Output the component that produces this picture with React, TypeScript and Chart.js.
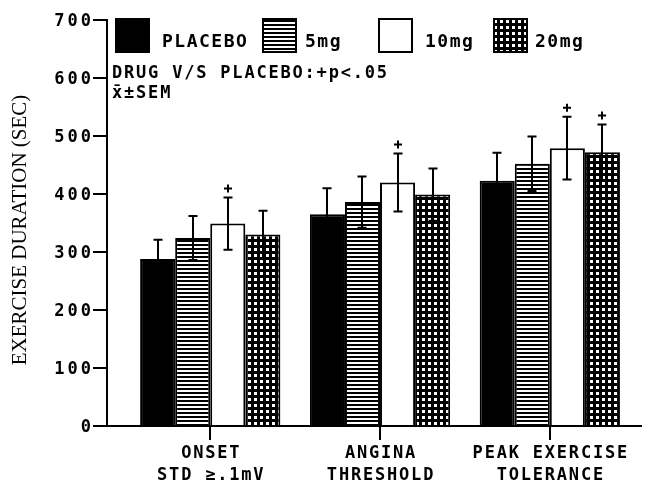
import React, { useEffect, useRef } from "react";
import { Chart, registerables } from "chart.js";
Chart.register(...registerables);

const categories = [
  ["ONSET", "STD ≥.1mV"],
  ["ANGINA", "THRESHOLD"],
  ["PEAK EXERCISE", "TOLERANCE"],
];
const seriesNames = ["PLACEBO", "5mg", "10mg", "20mg"];
const placebo = [288, 365, 423];
const placeboSem = [33, 45, 48];
const mg5 = [324, 386, 452];
const mg5Sem = [38, 44, 47];
const mg10 = [349, 420, 479];
const mg10Sem = [45, 50, 54];
const mg20 = [330, 399, 472];
const mg20Sem = [41, 45, 48];
const placeboSig = [false, false, false];
const mg5Sig = [false, false, false];
const mg10Sig = [true, true, true];
const mg20Sig = [false, false, true];
const yTicks = [0, 100, 200, 300, 400, 500, 600, 700];
const annotationLines = ["DRUG V/S PLACEBO:+p<.05", "x\u0304\u00B1SEM"];
const yTitle = "EXERCISE DURATION (SEC)";

const MONO = '"DejaVu Sans Mono", monospace';

function makeStripe(): CanvasPattern | string {
  const c = document.createElement("canvas");
  c.width = 4;
  c.height = 4;
  const g = c.getContext("2d")!;
  g.fillStyle = "#000";
  g.fillRect(0, 0, 4, 4);
  g.fillStyle = "#fff";
  g.fillRect(0, 2, 4, 2);
  return g.createPattern(c, "repeat") || "#888";
}
function makeDots(): CanvasPattern | string {
  const c = document.createElement("canvas");
  c.width = 6;
  c.height = 6;
  const g = c.getContext("2d")!;
  g.fillStyle = "#000";
  g.fillRect(0, 0, 6, 6);
  g.fillStyle = "#fff";
  g.fillRect(2, 2, 3, 3);
  return g.createPattern(c, "repeat") || "#444";
}

function txt(
  ctx: CanvasRenderingContext2D,
  s: string,
  x: number,
  y: number,
  font: string,
  align: CanvasTextAlign,
  spacing: number
) {
  ctx.save();
  ctx.font = font;
  (ctx as any).letterSpacing = spacing + "px";
  ctx.textAlign = align;
  ctx.textBaseline = "alphabetic";
  ctx.fillStyle = "#000";
  ctx.fillText(s, x, y);
  ctx.restore();
}

export default function App() {
  const ref = useRef<HTMLCanvasElement>(null);
  useEffect(() => {
    const canvas = ref.current!;
    const stripe = makeStripe();
    const dots = makeDots();
    const values = [placebo, mg5, mg10, mg20];
    const sems = [placeboSem, mg5Sem, mg10Sem, mg20Sem];
    const sigs = [placeboSig, mg5Sig, mg10Sig, mg20Sig];
    const fills: any[] = ["#000", stripe, "#fff", dots];

    const plugin = {
      id: "custom",
      afterDatasetsDraw(chart: any) {
        const ctx: CanvasRenderingContext2D = chart.ctx;
        const y = chart.scales.y;
        ctx.save();
        ctx.strokeStyle = "#000";
        ctx.lineWidth = 2;
        values.forEach((vals, di) => {
          const meta = chart.getDatasetMeta(di);
          meta.data.forEach((bar: any, i: number) => {
            const cx = Math.round(bar.x);
            const top = y.getPixelForValue(vals[i] + sems[di][i]);
            const bot = y.getPixelForValue(vals[i] - sems[di][i]);
            ctx.beginPath();
            ctx.moveTo(cx, top);
            ctx.lineTo(cx, bot);
            ctx.moveTo(cx - 4.5, top);
            ctx.lineTo(cx + 4.5, top);
            ctx.moveTo(cx - 4.5, bot);
            ctx.lineTo(cx + 4.5, bot);
            ctx.stroke();
            if (sigs[di][i]) {
              const py = top - 9;
              ctx.beginPath();
              ctx.moveTo(cx - 4, py);
              ctx.lineTo(cx + 4, py);
              ctx.moveTo(cx, py - 4);
              ctx.lineTo(cx, py + 4);
              ctx.stroke();
            }
          });
        });
        ctx.restore();
      },
      afterDraw(chart: any) {
        const ctx: CanvasRenderingContext2D = chart.ctx;
        const x = chart.scales.x;
        const y = chart.scales.y;
        yTicks.forEach((t) => {
          txt(ctx, String(t), 94, y.getPixelForValue(t) + 6, `bold 17px ${MONO}`, "right", 3);
        });
        ctx.save();
        ctx.translate(20, 230);
        ctx.rotate(-Math.PI / 2);
        ctx.font = '21px "Liberation Serif", serif';
        ctx.textAlign = "center";
        ctx.textBaseline = "middle";
        ctx.fillStyle = "#000";
        ctx.fillText(yTitle, 0, 0);
        ctx.restore();
        const boxX = [115, 262, 378, 493];
        const textX = [162, 305, 425, 535];
        seriesNames.forEach((name, i) => {
          ctx.save();
          ctx.fillStyle = fills[i];
          ctx.fillRect(boxX[i], 18, 35, 35);
          ctx.strokeStyle = "#000";
          ctx.lineWidth = 2;
          ctx.strokeRect(boxX[i] + 1, 19, 33, 33);
          ctx.restore();
          txt(ctx, name, textX[i], 47, `bold 18px ${MONO}`, "left", 1.5);
        });
        txt(ctx, annotationLines[0], 112, 78, `bold 17px ${MONO}`, "left", 1.8);
        txt(ctx, annotationLines[1], 112, 98, `bold 17px ${MONO}`, "left", 1.8);
        categories.forEach((lines, i) => {
          const cx = x.getPixelForValue(i) + 1;
          txt(ctx, lines[0], cx, 458, `bold 17px ${MONO}`, "center", 1.8);
          txt(ctx, lines[1], cx, 480, `bold 17px ${MONO}`, "center", 1.8);
        });
      },
    };

    const mk = (i: number, vals: number[]) => ({
      label: seriesNames[i],
      data: vals.map((v, k) => ({ x: k, y: v })),
      backgroundColor: fills[i],
      borderColor: "#000",
      borderWidth: 2,
      categoryPercentage: 0.826,
      barPercentage: 1.0,
    });

    const chart = new Chart(canvas, {
      type: "bar",
      data: {
        datasets: [mk(0, placebo), mk(1, mg5), mk(2, mg10), mk(3, mg20)] as any,
      },
      options: {
        animation: false,
        responsive: false,
        maintainAspectRatio: false,
        devicePixelRatio: 1,
        layout: { padding: { left: 0, right: 10, top: 20, bottom: 0 } },
        plugins: { legend: { display: false }, tooltip: { enabled: false } },
        scales: {
          x: {
            type: "linear",
            offset: false,
            min: -0.608,
            max: 2.537,
            afterBuildTicks: (s: any) => {
              s.ticks = [0, 1, 2].map((v) => ({ value: v }));
            },
            afterFit: (s: any) => {
              s.height = 59;
            },
            ticks: { display: false },
            grid: { offset: false, drawOnChartArea: false, drawTicks: true, tickLength: 14, color: "#000", lineWidth: 2 },
            border: { display: true, color: "#000", width: 2 },
          },
          y: {
            min: 0,
            max: 700,
            ticks: { display: false, stepSize: 100 },
            afterFit: (s: any) => {
              s.width = 107;
            },
            grid: { drawOnChartArea: false, drawTicks: true, tickLength: 14, color: "#000", lineWidth: 2 },
            border: { display: true, color: "#000", width: 2 },
          },
        },
      } as any,
      plugins: [plugin],
    });
    return () => chart.destroy();
  }, []);

  return (
    <div style={{ position: "absolute", left: 0, top: 0, width: 651, height: 485, background: "#fff" }}>
      <canvas ref={ref} width={651} height={485} style={{ display: "block" }} />
    </div>
  );
}
